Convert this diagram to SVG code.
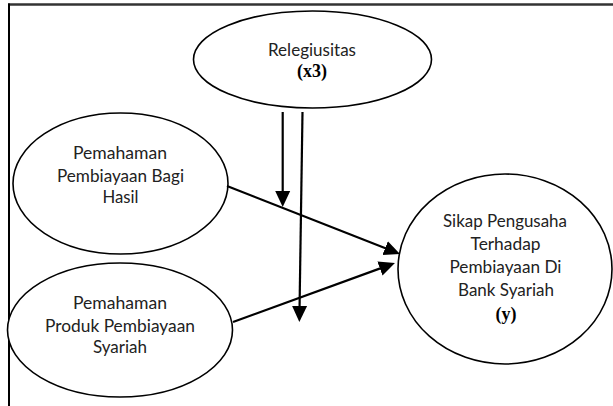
<svg xmlns="http://www.w3.org/2000/svg" width="613" height="406" viewBox="0 0 613 406">
<style>
.node{fill:#fff;stroke:#000;stroke-width:1.6}
.t{font-family:Lato,"Open Sans",sans-serif;font-size:16.5px;fill:#222;text-anchor:middle}
.b{font-family:"Liberation Serif","Times New Roman",serif;font-size:18px;font-weight:bold;fill:#000;text-anchor:middle}
.c{stroke:#000;stroke-width:2.2;fill:none;marker-end:url(#ah)}
</style>
<defs>
<marker id="ah" markerUnits="userSpaceOnUse" markerWidth="16" markerHeight="16" viewBox="0 0 16 16" refX="12" refY="8" orient="auto">
<path d="M0,0.5 L16,8 L0,15.5 Z" fill="#000"/>
</marker>
</defs>
<rect width="613" height="406" fill="#fff"/>
<g id="frame">
<line x1="8" y1="4.5" x2="613" y2="4.5" stroke="#333" stroke-width="2.3"/>
<line x1="9" y1="3.5" x2="9" y2="406" stroke="#000" stroke-width="2"/>
</g>
<g id="x3">
<ellipse class="node" cx="312.5" cy="59.5" rx="119" ry="48.5"/>
<text class="t" x="312" y="56" textLength="88" lengthAdjust="spacingAndGlyphs">Relegiusitas</text>
<text class="b" x="312" y="77">(x3)</text>
</g>
<g id="x1">
<ellipse class="node" cx="120.5" cy="183.5" rx="107.5" ry="70.5"/>
<text class="t" x="120" y="159" textLength="94" lengthAdjust="spacingAndGlyphs">Pemahaman</text>
<text class="t" x="120.5" y="182" textLength="127" lengthAdjust="spacingAndGlyphs">Pembiayaan Bagi</text>
<text class="t" x="120.5" y="203" textLength="36" lengthAdjust="spacingAndGlyphs">Hasil</text>
</g>
<g id="x2">
<ellipse class="node" cx="120" cy="330" rx="112.5" ry="67"/>
<text class="t" x="120" y="309" textLength="94" lengthAdjust="spacingAndGlyphs">Pemahaman</text>
<text class="t" x="120" y="332" textLength="150" lengthAdjust="spacingAndGlyphs">Produk Pembiayaan</text>
<text class="t" x="120" y="353" textLength="54" lengthAdjust="spacingAndGlyphs">Syariah</text>
</g>
<g id="y">
<ellipse class="node" cx="505" cy="269" rx="107" ry="95"/>
<text class="t" x="505" y="227" textLength="124" lengthAdjust="spacingAndGlyphs">Sikap Pengusaha</text>
<text class="t" x="505.5" y="250" textLength="70" lengthAdjust="spacingAndGlyphs">Terhadap</text>
<text class="t" x="505.5" y="273" textLength="112" lengthAdjust="spacingAndGlyphs">Pembiayaan Di</text>
<text class="t" x="506" y="296" textLength="96" lengthAdjust="spacingAndGlyphs">Bank Syariah</text>
<text class="b" x="506" y="320">(y)</text>
</g>
<g id="connectors">
<line class="c" x1="227" y1="186" x2="396.3" y2="252.5"/>
<line class="c" x1="233" y1="322" x2="391.2" y2="264.4"/>
<line class="c" x1="282.7" y1="112" x2="282.7" y2="203"/>
<line class="c" x1="302.5" y1="112" x2="299.4" y2="318"/>
</g>
</svg>
